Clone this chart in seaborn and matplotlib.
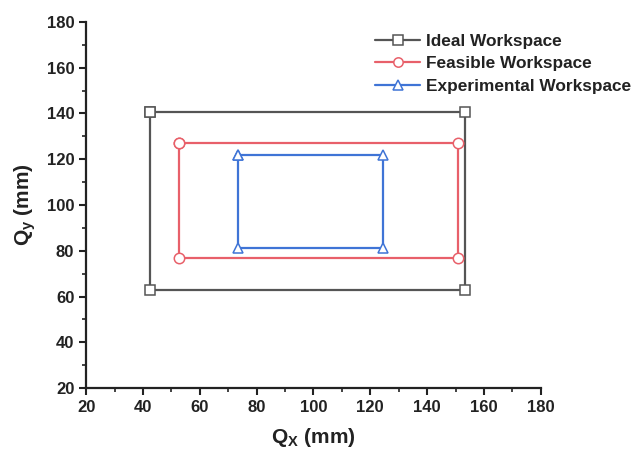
import matplotlib
matplotlib.use("Agg")
import matplotlib.pyplot as plt
import seaborn as sns
import pandas as pd
from matplotlib.ticker import MultipleLocator

sns.set_style("ticks")
plt.rcParams['font.family'] = ['Liberation Sans', 'DejaVu Sans']
plt.rcParams['mathtext.fontset'] = 'custom'
plt.rcParams['mathtext.rm'] = 'Liberation Sans'
plt.rcParams['mathtext.bf'] = 'Liberation Sans:bold'
plt.rcParams['mathtext.it'] = 'Liberation Sans:italic'

# Data: closed rectangles (corner points)
ideal_x = [42.5, 153.2, 153.2, 42.5, 42.5]
ideal_y = [140.5, 140.5, 63.0, 63.0, 140.5]
feas_x = [52.7, 150.8, 150.8, 52.7, 52.7]
feas_y = [127.0, 127.0, 77.0, 77.0, 127.0]
exp_x = [73.3, 124.4, 124.4, 73.3, 73.3]
exp_y = [121.8, 121.8, 81.3, 81.3, 121.8]

series = [
    ("Ideal Workspace", ideal_x, ideal_y, "#555555", "s"),
    ("Feasible Workspace", feas_x, feas_y, "#e8606a", "o"),
    ("Experimental Workspace", exp_x, exp_y, "#3f74d6", "^"),
]

fig = plt.figure(figsize=(6.43, 4.55), dpi=100)
ax = fig.add_axes([0.134, 0.147, 0.707, 0.805])

for name, xs, ys, col, mk in series:
    df = pd.DataFrame({"x": xs, "y": ys})
    sns.lineplot(data=df, x="x", y="y", sort=False, estimator=None, ax=ax,
                 color=col, linewidth=1.6, label=name, marker=mk,
                 markersize=7.5, markerfacecolor="white", markeredgecolor=col,
                 markeredgewidth=1.1)

ax.set_xlim(20, 180)
ax.set_ylim(20, 180)
ax.xaxis.set_major_locator(MultipleLocator(20))
ax.yaxis.set_major_locator(MultipleLocator(20))
ax.xaxis.set_minor_locator(MultipleLocator(10))
ax.yaxis.set_minor_locator(MultipleLocator(10))
ax.tick_params(axis='both', which='major', direction='out', length=5, width=1.5,
               labelsize=12, color='#222222')
ax.tick_params(axis='both', which='minor', direction='out', length=3, width=1.2,
               color='#222222')
for lbl in ax.get_xticklabels() + ax.get_yticklabels():
    lbl.set_fontweight('bold')
    lbl.set_color('#222222')

sns.despine(ax=ax)
for s in ['left', 'bottom']:
    ax.spines[s].set_linewidth(1.6)
    ax.spines[s].set_color('#222222')

ax.set_xlabel(r'$\mathbf{Q_{X}}$ (mm)', fontsize=15, fontweight='bold', color='#222222', labelpad=8)
ax.set_ylabel(r'$\mathbf{Q_{y}}$ (mm)', fontsize=15, fontweight='bold', color='#222222', labelpad=6)

leg = ax.legend(loc='upper left', bbox_to_anchor=(0.635, 0.968), frameon=False,
                prop={'weight': 'bold', 'size': 12.4}, handlelength=2.65,
                handletextpad=0.3, labelspacing=0.45, borderaxespad=0,
                borderpad=0, markerscale=0.9)
for t in leg.get_texts():
    t.set_color('#222222')

fig.savefig("out.png", dpi=100)
